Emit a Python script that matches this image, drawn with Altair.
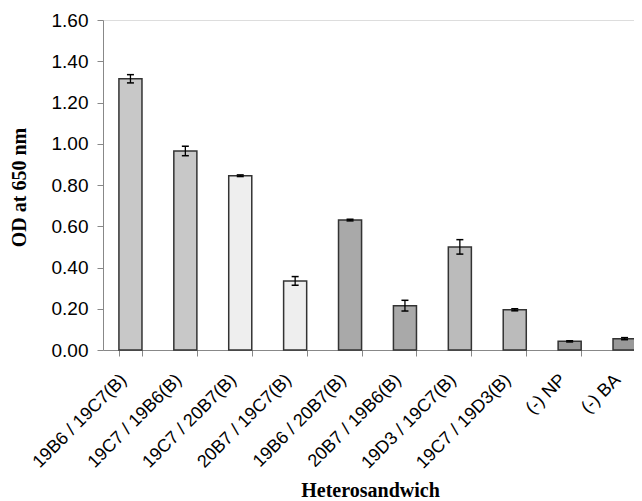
import altair as alt
import pandas as pd

categories = ["19B6 / 19C7(B)", "19C7 / 19B6(B)", "19C7 / 20B7(B)", "20B7 / 19C7(B)",
              "19B6 / 20B7(B)", "20B7 / 19B6(B)", "19D3 / 19C7(B)", "19C7 / 19D3(B)",
              "(-) NP", "(-) BA"]
od_values = [1.315, 0.965, 0.845, 0.335, 0.63, 0.215, 0.50, 0.195, 0.042, 0.055]
od_errors = [0.02, 0.023, 0.004, 0.021, 0.004, 0.026, 0.035, 0.005, 0.003, 0.005]
bar_colors = ["#c8c8c8", "#c8c8c8", "#eeeeee", "#eeeeee", "#a9a9a9",
              "#a9a9a9", "#bbbbbb", "#bbbbbb", "#999999", "#999999"]
y_ticks = [0.0, 0.2, 0.4, 0.6, 0.8, 1.0, 1.2, 1.4, 1.6]

df = pd.DataFrame({
    "cat": categories,
    "od": od_values,
    "lo": [v - e for v, e in zip(od_values, od_errors)],
    "hi": [v + e for v, e in zip(od_values, od_errors)],
    "color": bar_colors,
})

x_enc = alt.X(
    "cat:N", sort=categories,
    scale=alt.Scale(range=[0, 549], paddingInner=0.58, paddingOuter=0.29),
    axis=alt.Axis(
        title="Heterosandwich", labelAngle=315, labelAlign="right", labelBaseline="middle",
        labelFont="Liberation Sans", labelFontSize=18, labelColor="#000",
        labelPadding=21, labelOffset=-7,
        tickBand="extent", tickSize=6, tickColor="#888", domainColor="#888",
        titleFont="Liberation Serif", titleFontSize=20, titleFontWeight="bold", titleColor="#000",
        titleX=267, titleY=146, titleAlign="center", titleBaseline="alphabetic",
    ),
)
y_scale = alt.Scale(domain=[0, 1.6], nice=False, zero=True)
y_axis = alt.Axis(
    title="OD at 650 nm", values=y_ticks, format=".2f", grid=False,
    labelFont="Liberation Sans", labelFontSize=19, labelColor="#000", labelPadding=9,
    tickSize=6, tickColor="#888", domainColor="#888",
    titleFont="Liberation Serif", titleFontSize=20, titleFontWeight="bold", titleColor="#000",
    titleAngle=270, titleX=-78, titleY=167, titleAlign="center", titleBaseline="alphabetic",
)

bars = alt.Chart(df).mark_bar(stroke="#333333", strokeWidth=1.5).encode(
    x=x_enc,
    y=alt.Y("od:Q", scale=y_scale, axis=y_axis),
    fill=alt.Fill("color:N", scale=None),
)
rules = alt.Chart(df).mark_rule(color="#000", strokeWidth=1.3).encode(
    x=alt.X("cat:N", sort=categories), y="lo:Q", y2="hi:Q"
)
cap_lo = alt.Chart(df).mark_tick(orient="horizontal", size=7, thickness=1.5, color="#000", opacity=1).encode(
    x=alt.X("cat:N", sort=categories), y="lo:Q"
)
cap_hi = alt.Chart(df).mark_tick(orient="horizontal", size=7, thickness=1.5, color="#000", opacity=1).encode(
    x=alt.X("cat:N", sort=categories), y="hi:Q"
)

chart = alt.layer(bars, rules, cap_lo, cap_hi).properties(
    width=531, height=330,
    autosize=alt.AutoSizeParams(type="none"),
    padding={"left": 95, "top": 12, "right": 0, "bottom": 151},
).configure_view(stroke=None).configure(background="white")

chart.save("out.html", embed_options={"renderer": "svg", "actions": False})
